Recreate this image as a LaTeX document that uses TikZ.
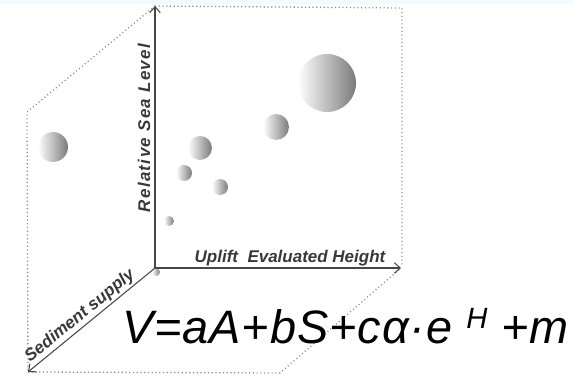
\documentclass[tikz,border=0pt]{standalone}
\usepackage{fontspec}
\setmainfont{Liberation Sans}
\usetikzlibrary{arrows.meta}
\begin{document}
\begin{tikzpicture}[
  x=0.03cm,
  y=-0.03cm,
  axis/.style={line width=0.9pt, draw=black!72, -{Straight Barb[length=5pt,width=9pt,line width=0.9pt]}},
  guide/.style={draw=black!45, line width=1.1pt, dash pattern=on 0.9pt off 2.3pt},
  bubble/.style={
    circle,
    inner sep=0pt,
    minimum size=#1*0.03cm,
    left color=white,
    right color=black!52
  },
  axis label/.style={
    font=\fontsize{14.5}{14.5}\selectfont\bfseries\itshape,
    text=black!78,
    inner sep=1pt
  }
]
  \useasboundingbox (0,0) rectangle (574,376);
  \fill[cyan!5] (0,0) rectangle (574,4);

  \coordinate (origin) at (155,268);
  \coordinate (rslTip) at (155,6);
  \coordinate (upliftTip) at (401,268);
  \coordinate (sedimentTip) at (28,372);
  \coordinate (backTop) at (402,8);
  \coordinate (backBottom) at (402,265);
  \coordinate (leftTop) at (27,112);
  \coordinate (frontRight) at (280,373);

  \draw[guide] (rslTip) -- (backTop) -- (backBottom);
  \draw[guide] (rslTip) -- (leftTop) -- (sedimentTip);
  \draw[guide] (sedimentTip) -- (frontRight) -- (upliftTip);

  \foreach [count=\i] \cx/\cy/\d in {327/83/58, 276/127/26, 53/147/30, 200/148/24,
                                    184/173/16, 220/187/16, 169/221/10, 156/272/8} {
    \node[bubble=\d] (bubble\i) at (\cx,\cy) {};
  }

  \draw[axis] (origin) -- (rslTip);
  \draw[axis] (origin) -- (upliftTip);
  \draw[axis] (origin) -- (sedimentTip);

  \node[axis label, rotate=90] (rslLabel) at (144,128) {\addfontfeature{LetterSpace=8}Relative Sea Level};
  \node[axis label] (upliftLabel) at (290,258) {Uplift\ \ Evaluated Height};
  \node[axis label, rotate=39.3] (sedimentLabel) at (80,316) {Sediment supply};

  \node[anchor=base west, inner sep=0pt, font=\fontsize{40}{40}\selectfont\itshape\addfontfeature{LetterSpace=2}]
    (formula) at (122,344) {V=aA+bS+cα·e \raisebox{13.6pt}{\fontsize{25}{25}\selectfont H} +m};
\end{tikzpicture}
\end{document}
